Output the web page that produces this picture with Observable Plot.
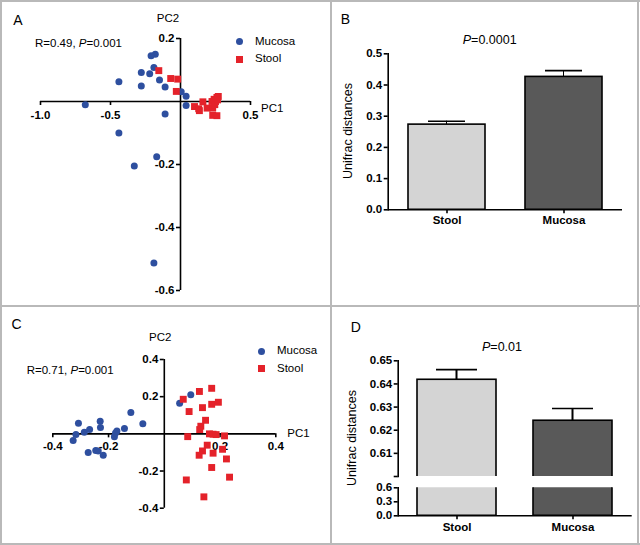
<!DOCTYPE html>
<html><head><meta charset="utf-8">
<script src="https://cdn.jsdelivr.net/npm/d3@7"></script>
<script src="https://cdn.jsdelivr.net/npm/@observablehq/plot@0.6"></script>
<style>
body{margin:0;background:#fff;}
#fig{position:relative;width:640px;height:545px;font-family:"Liberation Sans",Arial,sans-serif;color:#000;overflow:hidden;background:#fff}
#fig svg{position:absolute;left:0;top:0}
.t{position:absolute;white-space:nowrap;line-height:1}
.ln{position:absolute;background:#b9b9b9}
</style></head><body><div id="fig"></div>
<script>
// ---------- data ----------
const groups = ["Mucosa", "Stool"];
const groupColors = ["#2e4f9f", "#e4222a"];
const groupSymbols = ["circle", "square"];

// Panel A (PCoA)
const aMucosaPC1 = [-0.18,-0.21,-0.19,-0.28,-0.22,-0.44,-0.28,-0.15,-0.11,0.005,0.04,0.04,-0.68,-0.11,-0.44,-0.17,-0.33,-0.19];
const aMucosaPC2 = [0.15,0.145,0.108,0.092,0.088,0.063,0.049,0.068,0.046,0.031,0.017,-0.013,-0.01,-0.04,-0.10,-0.175,-0.205,-0.513];
const aStoolPC1 = [-0.155,-0.07,-0.02,-0.03,0.10,0.13,0.135,0.16,0.19,0.225,0.24,0.26,0.27,0.25,0.23,0.23,0.26,0.245,0.265];
const aStoolPC2 = [0.098,0.073,0.071,0.032,-0.016,-0.023,-0.029,-0.001,-0.021,0,0.007,0.013,0.016,0,-0.021,-0.044,-0.045,-0.01,0.005];
const aXTicks = [-1.0, -0.5, 0.5];
const aYTicks = [0.2, -0.2, -0.4, -0.6];

// Panel C (PCoA)
const cMucosaPC1 = [-0.308,-0.327,-0.317,-0.287,-0.268,-0.273,-0.246,-0.237,-0.219,-0.23,-0.229,-0.179,-0.175,-0.17,-0.143,-0.12,-0.077,0.055,0.095];
const cMucosaPC2 = [0.057,-0.036,-0.004,0.009,0.023,-0.10,-0.09,-0.092,-0.115,0.068,0.034,-0.016,0.005,0.016,0.029,0.115,0.054,0.165,0.21];
const cStoolPC1 = [0.068,0.089,0.126,0.17,0.137,0.17,0.194,0.148,0.131,0.127,0.084,0.162,0.175,0.186,0.216,0.154,0.137,0.125,0.175,0.209,0.223,0.17,0.234,0.079,0.142];
const cStoolPC2 = [0.186,0.12,0.228,0.245,0.141,0.159,0.17,0.073,0.041,0.023,-0.015,0,-0.002,-0.004,-0.011,-0.061,-0.092,-0.115,-0.104,-0.083,-0.135,-0.181,-0.233,-0.248,-0.339];
const cXTicks = [-0.4, -0.2, 0.2, 0.4];
const cYTicks = [0.4, 0.2, -0.2, -0.4];

// Panels B and D (bar charts)
const barCats = ["Stool", "Mucosa"];
const barColors = ["#d4d4d4", "#595959"];
const bMeans = [0.273, 0.426];
const bErrors = [0.011, 0.020];
const bTicks = [0, 0.1, 0.2, 0.3, 0.4, 0.5];
const dMeans = [0.6418, 0.6241];
const dErrors = [0.0044, 0.0053];
const dUpperTicks = [0.60, 0.61, 0.62, 0.63, 0.64, 0.65];
const dLowerTicks = [0, 0.3, 0.6];

// ---------- helpers ----------
const fig = document.getElementById("fig");
const FONT = '"Liberation Sans", Arial, sans-serif';
function pts(px, py, g) { return px.map((x, i) => ({pc1: x, pc2: py[i], group: g})); }
function put(html, x, y, o = {}) {
  const d = document.createElement("div");
  d.className = "t";
  d.innerHTML = html;
  d.style.left = x + "px"; d.style.top = y + "px";
  d.style.fontSize = (o.size || 11.5) + "px";
  if (o.weight) d.style.fontWeight = o.weight;
  const tx = o.anchor === "start" ? "0" : o.anchor === "end" ? "-100%" : "-50%";
  d.style.transform = `translate(${tx},-50%)` + (o.rotate ? ` rotate(${o.rotate}deg)` : "");
  fig.appendChild(d);
}
function line(l, t, w, h) {
  const d = document.createElement("div");
  d.className = "ln";
  Object.assign(d.style, {left: l + "px", top: t + "px", width: w + "px", height: h + "px"});
  fig.appendChild(d);
}
function legend(x, y) {
  groups.forEach((g, i) => {
    const s = document.createElement("div");
    Object.assign(s.style, {position: "absolute", left: (x - 3.5) + "px", top: (y + i * 17.5 - 3.5) + "px",
      width: "7px", height: "7px", background: groupColors[i],
      borderRadius: groupSymbols[i] === "circle" ? "50%" : "0"});
    fig.appendChild(s);
    put(g, x + 16, y + i * 17.5, {anchor: "start", size: 11.5});
  });
}
const svgStyle = {background: "transparent", fontFamily: FONT, fontSize: "11.5px", color: "#000", overflow: "visible"};
const fmt1 = d => d.toFixed(1);

function scatter(points, xd, yd, xt, yt, m, tickDy) {
  return Plot.plot({
    width: 640, height: 545,
    marginLeft: m[0], marginRight: m[1], marginTop: m[2], marginBottom: m[3],
    x: {domain: xd, axis: null}, y: {domain: yd, axis: null},
    color: {domain: groups, range: groupColors},
    style: svgStyle,
    marks: [
      Plot.ruleY([0], {x1: xd[0], x2: xd[1], strokeWidth: 1.6}),
      Plot.ruleX([0], {y1: yd[0], y2: yd[1], strokeWidth: 1.6}),
      Plot.ruleX(xt, {x: d => d, y1: 0, y2: 0, insetBottom: -4, strokeWidth: 1.6}),
      Plot.ruleY(yt, {y: d => d, x1: 0, x2: 0, insetLeft: -4, strokeWidth: 1.6}),
      Plot.text(xt, {x: d => d, y: 0, dy: tickDy, text: fmt1, fontWeight: "bold"}),
      Plot.text(yt, {x: 0, y: d => d, dx: -6, textAnchor: "end", text: fmt1, fontWeight: "bold"}),
      Plot.dot(points, {filter: d => d.group === "Mucosa", x: "pc1", y: "pc2", fill: "group", symbol: "circle", r: 3.5}),
      Plot.dot(points, {filter: d => d.group === "Stool", x: "pc1", y: "pc2", fill: "group", symbol: "square", r: 3.9})
    ]
  });
}

// o: {m, domain, ticks, tfmt, band, pad, capInset, stemInset, xPad, showErr, showX}
function bars(means, errs, o) {
  const data = barCats.map((c, i) => ({group: c, mean: means[i], upper: means[i] + errs[i]}));
  const marks = [];
  if (o.showErr) marks.push(
    Plot.barY(data, {x: "group", y1: "mean", y2: "upper", fill: "black", insetLeft: o.stemInset, insetRight: o.stemInset}),
    Plot.tickY(data, {x: "group", y: "upper", strokeWidth: 1.6, insetLeft: o.capInset, insetRight: o.capInset})
  );
  marks.push(
    Plot.barY(data, {x: "group", y1: 0, y2: "mean", fill: "group", stroke: "black", strokeWidth: 1.6, clip: true}),
    Plot.frame({anchor: "left", strokeWidth: 1.6})
  );
  if (o.showX) marks.push(Plot.ruleY([0], {strokeWidth: 1.6}));
  marks.push(Plot.axisY(o.ticks, {tickSize: 4, tickPadding: 2, tickFormat: o.tfmt, fontWeight: "bold", label: null, strokeWidth: 1.6}));
  if (o.showX) marks.push(Plot.axisX({tickSize: 4, tickPadding: o.xPad, fontWeight: "bold", label: null, strokeWidth: 1.6}));
  return Plot.plot({
    width: 640, height: 545,
    marginLeft: o.m[0], marginRight: o.m[1], marginTop: o.m[2], marginBottom: o.m[3],
    x: {type: "band", domain: barCats, paddingInner: o.band, paddingOuter: o.pad, axis: o.showX ? undefined : null},
    y: {domain: o.domain},
    color: {domain: barCats, range: barColors},
    style: svgStyle,
    marks
  });
}

// ---------- panel frames ----------
line(0, 0, 640, 2); line(0, 543, 640, 2); line(0, 0, 2, 545); line(637, 0, 2, 545);
line(330, 0, 2, 545); line(0, 305, 640, 2);

// ---------- panel A ----------
fig.appendChild(scatter([...pts(aMucosaPC1, aMucosaPC2, "Mucosa"), ...pts(aStoolPC1, aStoolPC2, "Stool")],
  [-1.0, 0.5], [-0.6, 0.2], aXTicks, aYTicks, [40, 390, 38, 255], 14));
put("A", 18, 20, {size: 14});
put("PC2", 168, 18.5);
put("PC1", 261, 108.5, {anchor: "start"});
put("R=0.49, <i>P</i>=0.001", 35, 43.5, {anchor: "start"});
legend(239, 41.7);

// ---------- panel B ----------
fig.appendChild(bars(bMeans, bErrors, {m: [387.7, 18, 53.3, 335.7], domain: [0, 0.5], ticks: bTicks, tfmt: fmt1,
  band: 0.339, pad: 0.167, capInset: 20, stemInset: 38, xPad: 2, showErr: true, showX: true}));
put("B", 345.5, 18.5, {size: 14});
put("<i>P</i>=0.0001", 489.7, 39.7, {size: 12.5});
put("Unifrac distances", 347.5, 131, {size: 12.5, rotate: -90});

// ---------- panel C ----------
fig.appendChild(scatter([...pts(cMucosaPC1, cMucosaPC2, "Mucosa"), ...pts(cStoolPC1, cStoolPC2, "Stool")],
  [-0.4, 0.4], [-0.4, 0.4], cXTicks, cYTicks, [52.3, 364.7, 359, 37.3], 12));
put("C", 16.5, 324, {size: 14});
put("PC2", 160.3, 337.5);
put("PC1", 287.3, 433.7, {anchor: "start"});
put("R=0.71, <i>P</i>=0.001", 26.7, 371, {anchor: "start"});
legend(261, 351);

// ---------- panel D (broken y axis: upper and lower segments) ----------
fig.appendChild(bars(dMeans, dErrors, {m: [397.7, 8.3, 360.3, 545 - 476], domain: [0.6, 0.65], ticks: dUpperTicks,
  tfmt: d => d <= 0.6 ? "" : d.toFixed(2), band: 0.323, pad: 0.17, capInset: 19, stemInset: 38.5, showErr: true, showX: false}));
fig.appendChild(bars(dMeans, dErrors, {m: [397.7, 8.3, 487.3, 545 - 515.3], domain: [0, 0.6], ticks: dLowerTicks,
  tfmt: fmt1, band: 0.323, pad: 0.17, xPad: 3, showErr: false, showX: true}));
put("D", 355.7, 326.7, {size: 14});
put("<i>P</i>=0.01", 502, 346.5, {size: 12.5});
put("Unifrac distances", 352, 438.3, {size: 12.5, rotate: -90});
</script>
</body></html>
